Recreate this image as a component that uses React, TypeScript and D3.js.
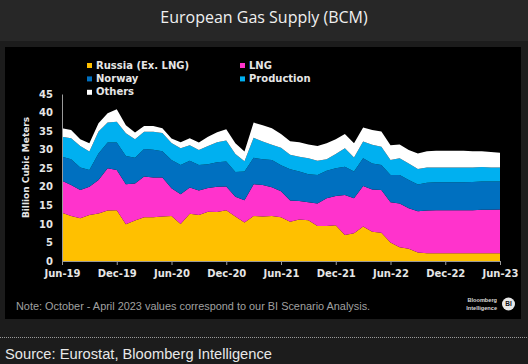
import React, { useEffect, useRef } from 'react';
import * as d3 from 'd3';

const months = [
    'Jun-19', 'Jul-19', 'Aug-19', 'Sep-19', 'Oct-19', 'Nov-19', 'Dec-19',
    'Jan-20', 'Feb-20', 'Mar-20', 'Apr-20', 'May-20', 'Jun-20', 'Jul-20',
    'Aug-20', 'Sep-20', 'Oct-20', 'Nov-20', 'Dec-20', 'Jan-21', 'Feb-21',
    'Mar-21', 'Apr-21', 'May-21', 'Jun-21', 'Jul-21', 'Aug-21', 'Sep-21',
    'Oct-21', 'Nov-21', 'Dec-21', 'Jan-22', 'Feb-22', 'Mar-22', 'Apr-22',
    'May-22', 'Jun-22', 'Jul-22', 'Aug-22', 'Sep-22', 'Oct-22', 'Nov-22',
    'Dec-22', 'Jan-23', 'Feb-23', 'Mar-23', 'Apr-23', 'May-23', 'Jun-23'
];

// Billion cubic meters per month
const russia = [
    13.0, 12.1, 11.5, 12.4, 12.8, 13.6, 13.7, 9.9, 10.9, 11.8, 11.8, 12.0, 12.1,
    10.0, 12.7, 12.4, 13.3, 13.2, 13.7, 12.0, 10.4, 12.1, 12.0, 12.1, 11.8,
    10.6, 11.2, 11.0, 9.4, 9.4, 9.6, 7.0, 7.5, 9.3, 7.9, 7.6, 5.0,
    3.7, 3.3, 2.3, 2.1, 2.1, 2.1, 2.1, 2.1, 2.1, 2.1, 2.1, 2.1
];
const lng = [
    8.6, 8.4, 7.6, 7.6, 9.0, 11.4, 10.8, 10.8, 10.0, 11.0, 10.7, 10.5, 7.5,
    8.0, 7.1, 6.6, 6.4, 6.8, 6.4, 5.3, 6.0, 8.6, 8.5, 7.8, 7.0,
    5.7, 5.0, 4.8, 6.1, 7.5, 7.9, 10.8, 9.4, 10.9, 11.4, 11.5, 10.8,
    11.8, 10.9, 11.1, 11.5, 11.6, 11.6, 11.6, 11.6, 11.6, 11.7, 11.7, 11.8
];
const norway = [
    6.5, 6.9, 6.1, 4.5, 7.2, 6.9, 7.4, 7.6, 6.9, 7.4, 7.5, 7.1, 7.6,
    7.9, 7.2, 6.9, 6.4, 6.6, 6.7, 6.7, 7.7, 7.1, 6.9, 7.3, 7.0,
    8.4, 7.9, 7.6, 7.7, 7.4, 7.5, 7.6, 7.2, 7.5, 7.0, 6.8, 7.4,
    7.7, 7.6, 7.2, 7.5, 7.5, 7.5, 7.5, 7.5, 7.6, 7.6, 7.6, 7.5
];
const production = [
    5.4, 5.7, 5.8, 5.0, 5.9, 5.4, 5.6, 6.1, 5.0, 4.6, 4.8, 4.9, 4.6,
    4.5, 4.2, 4.0, 4.9, 5.4, 5.7, 4.8, 2.8, 5.4, 4.8, 4.1, 4.7,
    3.9, 4.0, 4.3, 3.8, 3.1, 3.8, 5.0, 3.8, 4.5, 5.0, 4.9, 4.0,
    4.5, 4.5, 4.2, 4.1, 4.0, 4.0, 4.0, 4.0, 3.9, 3.9, 3.8, 3.8
];
const others = [
    2.3, 2.2, 1.8, 2.2, 2.2, 2.5, 3.4, 2.2, 1.8, 1.6, 1.6, 1.3, 1.2,
    1.6, 1.9, 2.0, 2.5, 2.7, 3.0, 2.9, 2.6, 4.1, 4.4, 4.5, 3.7,
    3.7, 3.9, 3.7, 4.0, 4.3, 4.0, 3.8, 3.8, 3.8, 4.0, 4.1, 4.0,
    3.7, 3.6, 4.2, 4.4, 4.5, 4.5, 4.5, 4.5, 4.4, 4.3, 4.2, 4.0
];

const seriesKeys = ['russia', 'lng', 'norway', 'production', 'others'];
const seriesColors = {
    russia: '#FFC000',
    lng: '#FF33CC',
    norway: '#0070C0',
    production: '#00B0F0',
    others: '#FFFFFF'
};
const legendItems = [
    { key: 'russia', label: 'Russia (Ex. LNG)', col: 0, row: 0 },
    { key: 'lng', label: 'LNG', col: 1, row: 0 },
    { key: 'norway', label: 'Norway', col: 0, row: 1 },
    { key: 'production', label: 'Production', col: 1, row: 1 },
    { key: 'others', label: 'Others', col: 0, row: 2 }
];
const yTicks = [0, 5, 10, 15, 20, 25, 30, 35, 40, 45];
const xTickLabels = ['Jun-19', 'Dec-19', 'Jun-20', 'Dec-20', 'Jun-21', 'Dec-21', 'Jun-22', 'Dec-22', 'Jun-23'];

const WIDTH = 528;
const HEIGHT = 364;

const GasSupplyChart = () => {
    const svgRef = useRef(null);

    useEffect(() => {
        document.body.style.margin = '0';
        const svg = d3.select(svgRef.current);
        svg.selectAll('*').remove();

        const plot = { left: 62, right: 500, top: 94, bottom: 261 };
        const boldFont = '"DejaVu Sans", sans-serif';

        // page, title bar and black chart panel
        svg.append('rect').attr('width', WIDTH).attr('height', HEIGHT).attr('fill', '#1c1c1c');
        svg.append('rect').attr('width', WIDTH).attr('height', 41).attr('fill', '#272727');
        svg.append('rect')
            .attr('x', 5).attr('y', 47)
            .attr('width', 516).attr('height', 272)
            .attr('fill', '#000000');

        svg.append('text')
            .attr('x', WIDTH / 2)
            .attr('y', 23)
            .attr('text-anchor', 'middle')
            .attr('fill', '#f0f0f0')
            .attr('font-family', '"Open Sans", sans-serif')
            .attr('font-size', 16)
            .text('European Gas Supply (BCM)');

        const data = months.map((m, i) => ({
            month: m,
            russia: russia[i],
            lng: lng[i],
            norway: norway[i],
            production: production[i],
            others: others[i]
        }));

        const xScale = d3.scalePoint()
            .domain(months)
            .range([plot.left, plot.right]);

        const yScale = d3.scaleLinear()
            .domain([0, 45])
            .range([plot.bottom, plot.top]);

        const stacked = d3.stack().keys(seriesKeys)(data);

        const area = d3.area()
            .x(d => xScale(d.data.month))
            .y0(d => yScale(d[0]))
            .y1(d => yScale(d[1]));

        svg.append('g')
            .selectAll('path')
            .data(stacked)
            .enter()
            .append('path')
            .attr('d', area)
            .attr('fill', d => seriesColors[d.key]);

        // y axis
        const yAxis = svg.append('g')
            .attr('transform', `translate(${plot.left},0)`)
            .call(d3.axisLeft(yScale).tickValues(yTicks).tickSize(0).tickPadding(9));
        yAxis.select('.domain').attr('stroke', '#9a9a9a');
        yAxis.selectAll('text')
            .attr('fill', '#e6e6e6')
            .attr('font-family', boldFont)
            .attr('font-weight', 'bold')
            .attr('font-size', 10);

        // x axis
        const xAxis = svg.append('g')
            .attr('transform', `translate(0,${plot.bottom})`)
            .call(d3.axisBottom(xScale).tickValues(xTickLabels).tickSizeOuter(0).tickSize(4).tickPadding(5));
        xAxis.select('.domain').attr('stroke', '#9a9a9a');
        xAxis.selectAll('line').attr('stroke', '#9a9a9a');
        xAxis.selectAll('text')
            .attr('fill', '#e6e6e6')
            .attr('font-family', boldFont)
            .attr('font-weight', 'bold')
            .attr('font-size', 10);

        svg.append('text')
            .attr('transform', `translate(26,${(plot.top + plot.bottom) / 2 - 10}) rotate(-90)`)
            .attr('text-anchor', 'middle')
            .attr('dy', '0.35em')
            .attr('fill', '#e6e6e6')
            .attr('font-family', boldFont)
            .attr('font-weight', 'bold')
            .attr('font-size', 9)
            .text('Billion Cubic Meters');

        // legend
        const legend = svg.append('g')
            .selectAll('g')
            .data(legendItems)
            .enter()
            .append('g')
            .attr('transform', d => `translate(${87 + d.col * 153},${63 + d.row * 13.4})`);
        legend.append('rect')
            .attr('width', 5).attr('height', 5)
            .attr('fill', d => seriesColors[d.key]);
        legend.append('text')
            .attr('x', 9)
            .attr('y', 5.5)
            .attr('fill', '#e6e6e6')
            .attr('font-family', boldFont)
            .attr('font-weight', 'bold')
            .attr('font-size', 10)
            .text(d => d.label);

        svg.append('text')
            .attr('x', 16)
            .attr('y', 310)
            .attr('fill', '#a0a0a0')
            .attr('font-family', '"Liberation Sans", sans-serif')
            .attr('font-size', 10.9)
            .text('Note: October - April 2023 values correspond to our BI Scenario Analysis.');

        // Bloomberg Intelligence mark
        const logo = svg.append('g').attr('fill', '#d9d9d9')
            .attr('font-family', '"Liberation Sans", sans-serif')
            .attr('font-weight', 'bold')
            .attr('font-size', 5.6)
            .attr('text-anchor', 'end');
        logo.append('text').attr('x', 497).attr('y', 302).text('Bloomberg');
        logo.append('text').attr('x', 497).attr('y', 309.5).text('Intelligence');
        svg.append('circle').attr('cx', 508.5).attr('cy', 304).attr('r', 6.5).attr('fill', '#e8e8e8');
        svg.append('text')
            .attr('x', 508.5).attr('y', 306.3)
            .attr('text-anchor', 'middle')
            .attr('fill', '#111')
            .attr('font-family', '"Liberation Sans", sans-serif')
            .attr('font-weight', 'bold')
            .attr('font-size', 6.5)
            .text('BI');

        // dotted separator and source
        svg.append('line')
            .attr('x1', 0).attr('x2', WIDTH)
            .attr('y1', 337.5).attr('y2', 337.5)
            .attr('stroke', '#9a9a9a')
            .attr('stroke-width', 1)
            .attr('stroke-dasharray', '1,1');
        svg.append('text')
            .attr('x', 5)
            .attr('y', 359)
            .attr('fill', '#e8e8e8')
            .attr('font-family', '"Liberation Sans", sans-serif')
            .attr('font-size', 14.7)
            .text('Source: Eurostat, Bloomberg Intelligence');
    }, []);

    return <svg ref={svgRef} width={WIDTH} height={HEIGHT} style={{ display: 'block' }} />;
};

export default function App() {
    return <GasSupplyChart />;
}
